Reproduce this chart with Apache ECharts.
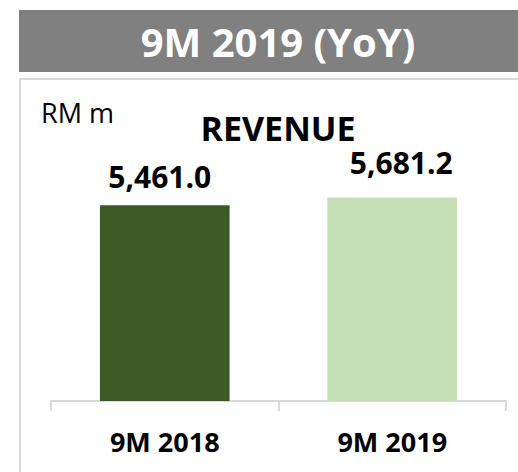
<!DOCTYPE html>
<html>
<head>
<meta charset="utf-8">
<script src="https://cdn.jsdelivr.net/npm/echarts@6/dist/echarts.min.js"></script>
<style>
    html, body { margin: 0; padding: 0; background: #fff; }
    #chart { width: 518px; height: 472px; }
</style>
</head>
<body>
<div id="chart"></div>
<script>
// data
const categories = ['9M 2018', '9M 2019']
const revenue = [5461.0, 5681.2]
const barColors = ['#3c5a25', '#c5e0b4']
// the labels sit a bit differently above each bar
const labelShift = [[-5, 0], [9, 0]]
const labelGap = [14, 20]

const font = '"Open Sans", "Liberation Sans", sans-serif'

let chart = echarts.init(document.getElementById('chart'), null, { renderer: 'svg' })

let option = {
    animation: false,
    backgroundColor: '#fff',
    graphic: [
        // grey header
        { type: 'rect', shape: { x: 19, y: 10, width: 499, height: 62 }, style: { fill: '#808080' }, z: 0 },
        {
            type: 'text', x: 278, y: 41,
            style: { text: '9M 2019 (YoY)', fill: '#fff', font: 'bold 40px ' + font, align: 'center', verticalAlign: 'middle' }
        },
        // box border (left + top)
        { type: 'line', shape: { x1: 20, y1: 79, x2: 20, y2: 472 }, style: { stroke: '#d9d9d9', lineWidth: 2 } },
        { type: 'line', shape: { x1: 19, y1: 79, x2: 518, y2: 79 }, style: { stroke: '#d9d9d9', lineWidth: 2 } },
        {
            type: 'text', x: 41, y: 112,
            style: { text: 'RM m', fill: '#000', font: '27px ' + font, align: 'left', verticalAlign: 'middle' }
        },
        {
            type: 'text', x: 278, y: 128,
            style: { text: 'REVENUE', fill: '#000', font: 'bold 34px ' + font, align: 'center', verticalAlign: 'middle' }
        }
    ],
    grid: { left: 51, right: 12, top: 186, bottom: 71 },
    xAxis: {
        type: 'category',
        data: categories,
        axisLine: { lineStyle: { color: '#d9d9d9', width: 2 } },
        axisTick: { show: true, length: 10, lineStyle: { color: '#d9d9d9', width: 2 } },
        axisLabel: { color: '#000', fontFamily: font, fontWeight: 'bold', fontSize: 27, margin: 27 }
    },
    yAxis: { type: 'value', min: 0, max: 6000, show: false },
    series: [
        {
            type: 'bar',
            barWidth: '57%',
            data: revenue.map((v, i) => ({
                value: v,
                itemStyle: { color: barColors[i] },
                label: { offset: labelShift[i], distance: labelGap[i] }
            })),
            label: {
                show: true,
                position: 'top',
                color: '#000',
                fontFamily: font,
                fontWeight: 'bold',
                fontSize: 30,
                formatter: p => p.value.toLocaleString('en-US', { minimumFractionDigits: 1, maximumFractionDigits: 1 })
            }
        }
    ]
}
chart.setOption(option)
window.addEventListener('resize', () => {
    chart.resize()
})
</script>
</body>
</html>
